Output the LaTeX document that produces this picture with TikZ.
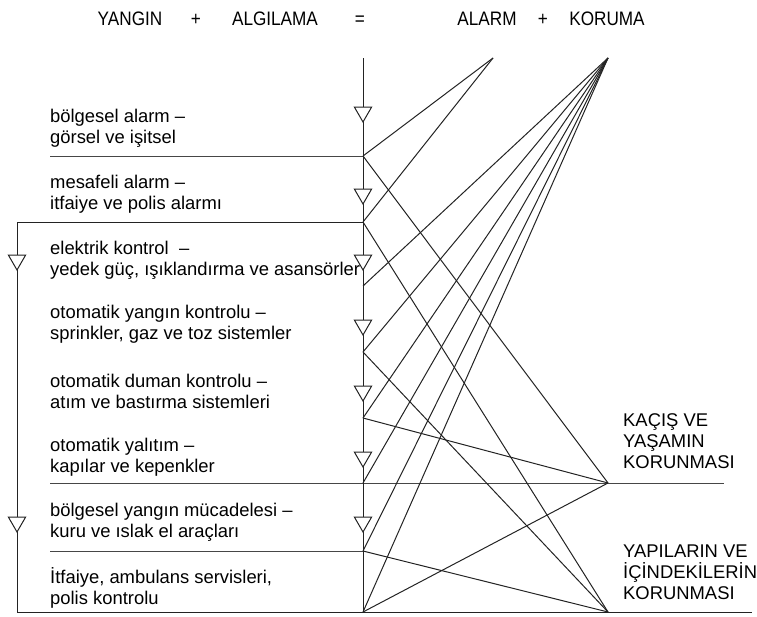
\documentclass[tikz,border=0pt]{standalone}
\usepackage{fontspec}
\setmainfont{Liberation Sans}
\newfontfamily\headfont[FakeStretch=0.88]{Liberation Sans}
\definecolor{inkgray}{RGB}{35,35,35}
\definecolor{rulegray}{RGB}{70,70,70}
\usetikzlibrary{shapes.geometric}

\begin{document}
\begin{tikzpicture}[x=1pt, y=-1pt,
  wire/.style={draw=inkgray, line width=1pt},
  rule/.style={draw=rulegray, line width=1pt},
  valve/.style={regular polygon, regular polygon sides=3, shape border rotate=180,
    draw=inkgray, fill=white, line width=1pt, inner sep=0pt, minimum size=20pt},
  itemtext/.style={anchor=west, align=left, inner sep=0pt,
    font=\fontsize{18.4}{21}\selectfont},
  headtext/.style={anchor=base, inner sep=0pt, font=\headfont\fontsize{19.5}{21}\selectfont},
]
  \useasboundingbox (0,0) rectangle (757,616);

  \node[headtext] (yangin) at (130,25) {YANGIN};
  \node[headtext] (plusa) at (196,25) {+};
  \node[headtext] (algilama) at (275,25) {ALGILAMA};
  \node[headtext] (equals) at (360,25) {=};
  \node[headtext] (alarmh) at (487,25) {ALARM};
  \node[headtext] (plusb) at (543,25) {+};
  \node[headtext] (korumah) at (607,25) {KORUMA};

  \coordinate (top) at (363,58);
  \coordinate (j1) at (363,156);
  \coordinate (j2) at (363,222);
  \coordinate (j3) at (363,286);
  \coordinate (j4) at (363,352);
  \coordinate (j5) at (363,418);
  \coordinate (j6) at (363,483);
  \coordinate (j7) at (363,551);
  \coordinate (j8) at (363,612);
  \coordinate (alarm) at (493,58);
  \coordinate (koruma) at (608,58);
  \coordinate (kacis) at (608,483);
  \coordinate (yapi) at (608,612);
  \coordinate (e1) at (50,156);
  \coordinate (e6) at (50,483);
  \coordinate (e7) at (50,551);
  \coordinate (lt) at (17,222);
  \coordinate (lb) at (17,612);
  \coordinate (kend) at (724,483);
  \coordinate (bend) at (752,612);

  % horizontal rules and the loops
  \draw[rule] (e1) -- (j1);
  \draw[rule] (e6) -- (kend);
  \draw[rule] (e7) -- (j7);
  \draw[wire] (j2) -- (lt) -- (lb) -- (bend);
  \draw[wire] (top) -- (j8);

  % alarm and protection fans
  \draw[wire] (alarm) -- (j1);
  \draw[wire] (alarm) -- (j2);
  \draw[wire] (koruma) -- (j3);
  \draw[wire] (koruma) -- (j4);
  \draw[wire] (koruma) -- (j5);
  \draw[wire] (koruma) -- (j6);
  \draw[wire] (koruma) -- (j7);
  \draw[wire] (koruma) -- (j8);
  \draw[wire] (j1) -- (kacis);
  \draw[wire] (j5) -- (kacis);
  \draw[wire] (j8) -- (kacis);
  \draw[wire] (j2) -- (yapi);
  \draw[wire] (j4) -- (yapi);
  \draw[wire] (j7) -- (yapi);

  \node[valve] (v1) at (363,112) {};
  \node[valve] (v2) at (363,194) {};
  \node[valve] (v3) at (363,260) {};
  \node[valve] (v4) at (363,325) {};
  \node[valve] (v5) at (363,391) {};
  \node[valve] (v6) at (363,457) {};
  \node[valve] (v7) at (363,522) {};
  \node[valve] (w1) at (17,260) {};
  \node[valve] (w2) at (17,522) {};

  \node[itemtext] (t1) at (50,128.5) {bölgesel alarm –\\görsel ve işitsel};
  \node[itemtext] (t2) at (50,194.5) {mesafeli alarm –\\itfaiye ve polis alarmı};
  \node[itemtext] (t3) at (50,260) {elektrik kontrol\ \ –\\yedek güç, ışıklandırma ve asansörler};
  \node[itemtext] (t4) at (50,324.5) {otomatik yangın kontrolu –\\sprinkler, gaz ve toz sistemler};
  \node[itemtext] (t5) at (50,391) {otomatik duman kontrolu –\\atım ve bastırma sistemleri};
  \node[itemtext] (t6) at (50,457) {otomatik yalıtım –\\kapılar ve kepenkler};
  \node[itemtext] (t7) at (50,522.5) {bölgesel yangın mücadelesi –\\kuru ve ıslak el araçları};
  \node[itemtext] (t8) at (50,587.5) {İtfaiye, ambulans servisleri,\\polis kontrolu};

  \node[itemtext] (life) at (623,441) {KAÇIŞ VE\\YAŞAMIN\\KORUNMASI};
  \node[itemtext] (property) at (623,572) {YAPILARIN VE\\İÇİNDEKİLERİN\\KORUNMASI};
\end{tikzpicture}
\end{document}
